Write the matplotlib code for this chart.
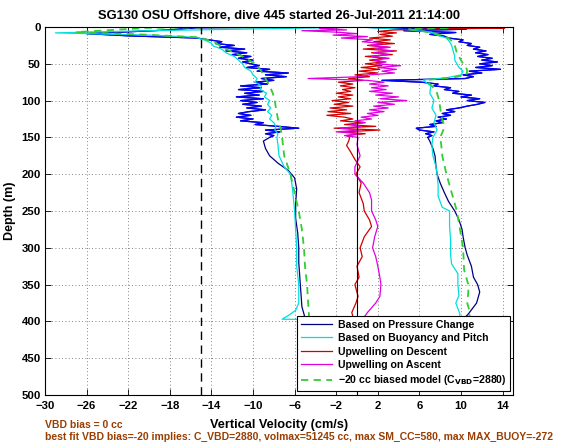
"""Glider dive 445: vertical velocity profiles against depth."""

import matplotlib

matplotlib.use("Agg")

import matplotlib.pyplot as plt  # noqa: E402
import numpy as np  # noqa: E402

plt.rcParams["font.family"] = ["Liberation Sans", "DejaVu Sans"]
plt.rcParams["font.weight"] = "bold"

# --- data (cm/s vs m) ---------------------------------------------------------
# regular 2.5 m sampling used by the noisy upper 150 m
GRID_DOWN = np.arange(15.0, 150.01, 2.5)
GRID_UP = GRID_DOWN[::-1]

# pressure change, descent
pc_desc_top_z = [0, 1, 4, 9, 12]
pc_desc_top_w = [-1.5, -15.5, -18.0, -26.0, -22.0]
pc_desc_noisy_w = [
    -15.4, -14.2, -13.0, -13.6, -11.8, -13.2, -10.8, -12.6, -10.6, -12.0,
    -10.2, -11.4, -10.0, -11.0, -10.2, -9.4, -10.6, -8.4, -9.6, -6.6,
    -8.8, -6.8, -9.2, -8.0, -9.8, -8.6, -11.2, -9.2, -11.4, -9.0,
    -10.8, -9.4, -11.6, -9.0, -11.2, -9.6, -11.0, -9.2, -10.6, -8.8,
    -10.4, -11.4, -10.2, -11.6, -10.0, -11.2, -9.0, -9.8, -7.6, -5.6,
    -8.8, -7.4, -8.8, -8.0, -8.4,
]
pc_desc_deep_z = [155, 165, 175, 185, 195, 205, 220, 240, 260, 280, 300, 320,
                  340, 360, 380, 395, 400]
pc_desc_deep_w = [-9.0, -8.8, -8.4, -7.6, -6.6, -6.0, -5.8, -5.9, -5.9, -5.7,
                  -5.6, -5.6, -5.5, -5.4, -5.3, -5.0, -4.0]
# pressure change, ascent
pc_asc_deep_z = [400, 390, 375, 360, 350, 340, 325, 310, 300, 285, 275, 262,
                 250, 237, 225, 212, 200, 190, 175, 165, 155]
pc_asc_deep_w = [10.0, 10.7, 11.5, 11.8, 11.6, 11.2, 11.0, 10.6, 10.4, 10.2,
                 10.1, 9.8, 9.4, 8.8, 8.4, 8.0, 7.7, 7.6, 7.5, 7.3, 7.0]
pc_asc_noisy_w = [
    6.8, 7.2, 6.6, 7.4, 6.0, 5.7, 7.6, 7.0, 8.2, 7.6,
    8.6, 7.8, 9.0, 8.2, 9.4, 8.6, 9.8, 10.6, 11.6, 12.3,
    10.6, 11.8, 10.0, 11.0, 9.2, 9.8, 8.4, 9.0, 7.4, 7.8,
    6.2, 2.4, 10.4, 11.2, 10.2, 12.0, 10.8, 13.8, 11.4, 13.0,
    11.8, 13.5, 12.0, 13.0, 11.6, 12.6, 11.4, 12.4, 11.2, 11.8,
    10.6, 11.0, 9.8, 10.2, 8.8,
]
pc_asc_top_z = [12.5, 10, 7.5, 5, 3, 1.5, 0.5]
pc_asc_top_w = [8.4, 7.0, 9.5, 4.5, 10.5, 3.8, 1.0]

# buoyancy and pitch
bp_desc_z = [0, 1, 5, 8, 9, 11, 14, 18, 22, 26, 30, 35, 40, 45, 50, 55, 60, 65,
             70, 75, 80, 85, 90, 95, 100, 105, 110, 115, 120, 125, 130, 135,
             140, 145, 150, 160, 175, 190, 200, 220, 250, 275, 300, 325, 350,
             375, 385, 392, 397]
bp_desc_w = [-1, -3, -20, -29, -26, -20, -15.5, -14.6, -14.0, -13.8, -13.0,
             -12.6, -11.8, -11.4, -11.0, -10.8, -10.2, -10.0, -9.6, -9.8, -9.2,
             -9.3, -8.7, -8.9, -8.4, -8.6, -8.3, -8.6, -8.2, -8.4, -8.0, -7.8,
             -7.9, -7.6, -7.7, -7.6, -7.5, -7.0, -6.4, -6.2, -6.0, -5.9, -5.8,
             -5.8, -5.6, -5.6, -5.9, -6.6, -7.2]
bp_asc_z = [400, 390, 375, 365, 350, 335, 322, 310, 290, 270, 250, 245, 230,
            215, 200, 190, 175, 160, 150, 140, 130, 120, 110, 100, 90, 80, 75,
            72, 69, 65, 60, 55, 50, 45, 40, 35, 30, 25, 20, 15, 10, 7, 4, 2, 0]
bp_asc_w = [9.8, 9.9, 9.5, 9.8, 9.7, 9.7, 9.1, 9.0, 9.0, 8.9, 8.9, 8.2, 7.8,
            7.8, 7.7, 7.6, 7.3, 7.2, 7.3, 7.7, 7.4, 7.6, 7.2, 7.4, 7.0, 7.1,
            6.6, 6.4, 8.6, 10.0, 10.2, 9.8, 9.6, 9.4, 9.4, 9.3, 9.2, 9.1, 8.9,
            8.6, 7.5, 7.2, 5.0, 3.0, 0.0]

# -20 cc biased model
md_desc_z = [0, 1, 7, 10, 14, 20, 25, 30, 40, 50, 60, 70, 80, 90, 100, 110,
             125, 140, 150, 175, 200, 225, 250, 275, 300, 325, 350, 375, 395,
             400]
md_desc_w = [-1.5, -20, -27, -21, -15.2, -13.8, -13.2, -12.6, -11.0, -9.8,
             -9.2, -8.8, -8.4, -8.1, -7.9, -7.8, -7.6, -7.3, -7.2, -7.0, -6.4,
             -6.0, -5.6, -5.3, -5.1, -5.0, -4.8, -4.7, -4.6, -4.0]
md_asc_z = [400, 390, 375, 360, 350, 330, 300, 275, 250, 225, 200, 175, 160,
            150, 140, 130, 120, 110, 100, 90, 80, 75, 72, 68, 65, 60, 55, 50,
            45, 40, 35, 30, 25, 20, 15, 10, 8, 5, 3, 1, 0]
md_asc_w = [10.5, 10.9, 10.6, 10.7, 10.7, 10.3, 10.2, 9.9, 9.6, 9.1, 8.6, 8.2,
            8.1, 8.0, 8.3, 8.3, 8.1, 8.0, 7.9, 7.7, 7.2, 6.8, 6.7, 9.5, 10.5,
            10.6, 10.5, 10.2, 10.0, 9.8, 9.6, 9.5, 9.4, 9.2, 8.8, 7.8, 7.3,
            6.0, 5.0, 9.0, 3.0]

# upwelling on descent
up_desc_top_z = [0, 1, 1.5, 2.5, 4, 6, 8, 10, 12.5]
up_desc_top_w = [0.5, 8.0, 14.2, 9.0, 3.6, 2.0, 3.8, 2.2, 3.4]
up_desc_noisy_w = [
    1.2, 3.2, 1.6, 3.6, 1.0, 3.0, 0.6, 3.8, 1.4, 3.4,
    0.8, 2.8, 1.2, 2.6, 0.8, 2.4, 0.4, 2.2, 0.2, 2.0,
    -0.2, 1.2, -0.8, 0.6, -1.8, -0.4, -1.6, -0.2, -1.4, -0.6,
    -2.0, -0.4, -1.8, -0.6, -2.4, -0.8, -2.2, -0.4, -2.6, -1.0,
    -2.8, -0.6, -2.9, -1.2, -0.4, -1.6, 0.6, -1.2, 1.8, -2.2,
    2.2, -1.4, 0.8, -1.0, -0.7,
]
up_desc_deep_z = [155, 161, 170, 180, 190, 200, 212, 225, 240, 250, 262, 271,
                  285, 300, 312, 325, 340, 350, 366, 375, 388, 398]
up_desc_deep_w = [-0.8, -1.0, -0.6, -0.2, 0.3, -0.1, 0.4, 0.2, 0.6, 0.7, 1.2,
                  1.4, 0.7, 0.3, 0.5, 0.0, 0.2, -0.2, 0.1, -0.1, -0.5, -0.3]

# upwelling on ascent
up_asc_top_z = [0, 2, 4, 5, 7, 9, 11, 13]
up_asc_top_w = [0.0, -3.6, -1.0, -5.3, -2.0, 0.0, -2.3, 1.0]
up_asc_noisy_w = [
    -1.5, 1.5, 0.5, 2.5, 1.2, 3.2, 1.8, 3.4, 1.6, 3.0,
    1.4, 3.1, 1.6, 2.8, 1.8, 4.2, 2.0, 3.8, 2.4, 3.6,
    1.2, 0.4, -4.7, 1.0, 2.6, 1.2, 3.0, 1.4, 2.8, 1.2,
    3.4, 1.8, 4.0, 2.2, 4.8, 2.0, 3.6, 1.6, 3.0, 1.2,
    2.6, 1.0, 2.0, 0.4, 1.4, -0.2, 0.8, -0.6, 0.4, -1.6,
    0.2, -2.0, 0.3, -1.2, 0.1,
]
up_asc_deep_z = [160, 175, 190, 200, 212, 225, 235, 250, 262, 271, 285, 300,
                 312, 325, 340, 350, 366, 375, 388, 398]
up_asc_deep_w = [0.0, 0.3, -0.2, -0.2, 0.6, 1.2, 1.4, 1.4, 1.8, 2.0, 1.7, 1.5,
                 1.8, 2.0, 2.2, 2.3, 2.2, 1.8, 1.0, 0.5]

VBD_LIMIT = -15
X_TICKS = list(range(-30, 15, 4))
Y_TICKS = list(range(0, 501, 50))

TITLE = "SG130 OSU Offshore, dive 445 started 26-Jul-2011 21:14:00"
NOTE_1 = "VBD bias = 0 cc"
NOTE_2 = ("best fit VBD bias=-20 implies: C_VBD=2880, volmax=51245 cc, "
          "max SM_CC=580, max MAX_BUOY=-272")

C_PC_DEEP = "#000080"
C_PC_NOISY = "#0000ff"
C_BP = "#00dede"
C_UPD = "#d00000"
C_UPA = "#e000e0"
C_MD = "#33cc33"
C_NOTE = "#993d00"

# --- assemble profiles -------------------------------------------------------
pc_z = np.concatenate([pc_desc_top_z, GRID_DOWN, pc_desc_deep_z,
                       pc_asc_deep_z, GRID_UP, pc_asc_top_z])
pc_w = np.concatenate([pc_desc_top_w, pc_desc_noisy_w, pc_desc_deep_w,
                       pc_asc_deep_w, pc_asc_noisy_w, pc_asc_top_w])
bp_z = np.concatenate([bp_desc_z, bp_asc_z])
bp_w = np.concatenate([bp_desc_w, bp_asc_w])
md_z = np.concatenate([md_desc_z, md_asc_z])
md_w = np.concatenate([md_desc_w, md_asc_w])
upd_z = np.concatenate([up_desc_top_z, GRID_DOWN, up_desc_deep_z])
upd_w = np.concatenate([up_desc_top_w, up_desc_noisy_w, up_desc_deep_w])
upa_z = np.concatenate([up_asc_top_z, GRID_DOWN, up_asc_deep_z])
upa_w = np.concatenate([up_asc_top_w, up_asc_noisy_w, up_asc_deep_w])

# --- figure ------------------------------------------------------------------
fig = plt.figure(figsize=(5.66, 4.42), dpi=100)
ax = fig.add_axes([45 / 566, 47 / 442, 468 / 566, 368 / 442])

lw = 0.9
ax.plot(pc_w, pc_z, color=C_PC_DEEP, lw=lw, label="Based on Pressure Change")
ax.plot(np.where(pc_z <= 150, pc_w, np.nan), pc_z, color=C_PC_NOISY, lw=lw)
ax.plot(bp_w, bp_z, color=C_BP, lw=lw, label="Based on Buoyancy and Pitch")
ax.plot(upd_w, upd_z, color=C_UPD, lw=lw, label="Upwelling on Descent")
ax.plot(upa_w, upa_z, color=C_UPA, lw=lw, label="Upwelling on Ascent")
ax.plot(md_w, md_z, color=C_MD, lw=1.3, ls=(0, (4, 3)),
        label="\u221220 cc biased model (C$_{\\mathbf{VBD}}$=2880)")

ax.axvline(VBD_LIMIT, color="black", lw=1.0, ls=(0, (6, 4)))
ax.axvline(0, color="black", lw=0.8)

ax.set_xlim(-30, 15)
ax.set_ylim(500, 0)
ax.set_xticks(X_TICKS)
ax.set_yticks(Y_TICKS)
ax.grid(True, color="0.35", lw=0.6, ls=(0, (1, 3)))
ax.tick_params(direction="in", top=True, right=True, length=4, width=0.6,
               labelsize=8.2)
ax.tick_params(axis="x", pad=4)
ax.tick_params(axis="y", pad=3)
for lab in ax.get_xticklabels() + ax.get_yticklabels():
    lab.set_fontweight("bold")
for s in ax.spines.values():
    s.set_linewidth(0.8)

ax.set_title(TITLE, fontsize=9.3, fontweight="bold", pad=6)
ax.set_ylabel("Depth (m)", fontsize=9, fontweight="bold", labelpad=4)
fig.text(279 / 566, 1 - 425 / 442, "Vertical Velocity (cm/s)", ha="center",
         va="center", fontsize=9.2, fontweight="bold")
fig.text(45 / 566, 1 - 425 / 442, NOTE_1, ha="left", va="center",
         fontsize=7.5, fontweight="bold", color=C_NOTE)
fig.text(45 / 566, 1 - 437 / 442, NOTE_2, ha="left", va="center",
         fontsize=7.5, fontweight="bold", color=C_NOTE)

leg = ax.legend(loc="lower right", bbox_to_anchor=(0.9936, 0.011),
                borderaxespad=0, prop={"size": 7.6, "weight": "bold"},
                handlelength=3.0, labelspacing=0.32, borderpad=0.35,
                handletextpad=0.5, fancybox=False, framealpha=1,
                edgecolor="black")
leg.get_frame().set_linewidth(0.8)

fig.savefig("out.png", dpi=100)
